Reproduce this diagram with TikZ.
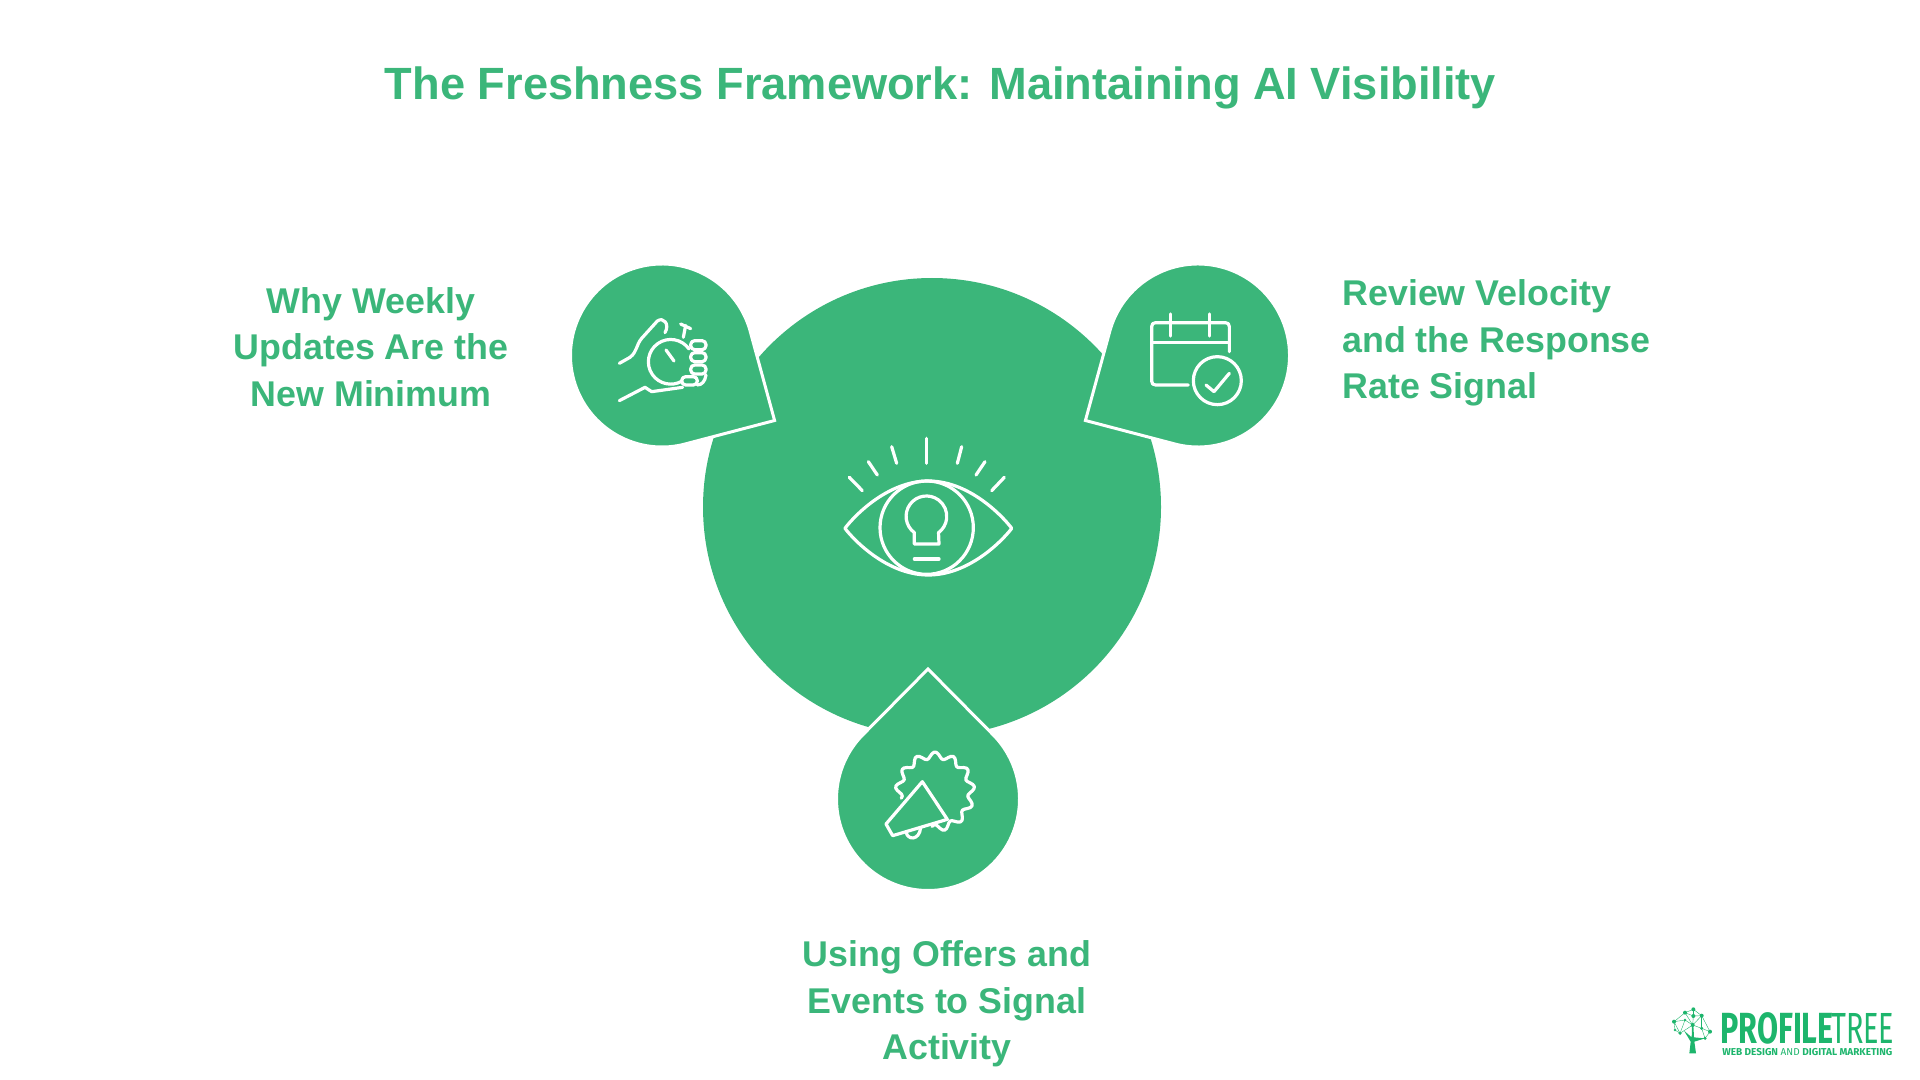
\documentclass[tikz,border=0pt]{standalone}
\usepackage{fontspec}
\setmainfont{Liberation Sans}
\newfontfamily\logofont{Fira Sans}
\definecolor{leafgreen}{HTML}{3BB67A}
\definecolor{logogreen}{HTML}{1DB56C}
\tikzset{
  dropmark/.style={fill=leafgreen,draw=white,line width=1.5pt,line join=miter,miter limit=10},
  iconline/.style={draw=white,line width=1.6pt,line cap=round,line join=round},
  headline/.style={text=leafgreen,font=\bfseries\fontsize{22.6}{26}\selectfont,inner sep=0pt},
  sidelabel/.style={text=leafgreen,font=\bfseries\fontsize{17.9}{23.2}\selectfont,inner sep=0pt},
  treeline/.style={draw=logogreen,line width=0.2pt},
  treedot/.style={fill=logogreen},
}
\newcommand{\dropshape}[3]{%
  \path[dropmark,shift={(#1,#2)},rotate=#3] (130,0) -- (47:91.5) arc[start angle=47,end angle=313,radius=91.5] -- cycle;}
\begin{document}
\begin{tikzpicture}[x=0.5pt,y=0.5pt,yscale=-1,xscale=1]
\useasboundingbox (0,0) rectangle (1920,1080);

% circle and drops
\fill[leafgreen] (932,507) circle (229);
\dropshape{662}{355.5}{30}
\dropshape{1198}{355.5}{150}
\dropshape{928}{799}{-90}

% eye
\begin{scope}[shift={(820,420)},scale=1/3]
\foreach \ax/\ay/\bx/\by in {320/55/320/130,215/80/230/130,145/125/172/165,88/172/127/212,425/80/412/130,495/125/468/165,553/172/515/212}
  \draw[iconline] (\ax,\ay) -- (\bx,\by);
\draw[iconline] (75,325) .. controls (85,310) and (190,183) .. (325,183) .. controls (460,183) and (565,310) .. (575,325) .. controls (565,340) and (460,465) .. (325,465) .. controls (190,465) and (85,340) .. (75,325) -- cycle;
\draw[iconline] (320,323) circle (140);
\draw[iconline] (283,338) arc[start angle=126.5,end angle=413.5,radius=61] -- (357,372) -- (283,372) -- cycle;
\draw[iconline] (283,417) -- (357,417);
\end{scope}

% hand with stopwatch
\begin{scope}[shift={(550,250)},scale=1/3]
\draw[iconline] (208,340) -- (240,322) .. controls (262,305) and (258,285) .. (275,265) -- (322,213) .. controls (340,200) and (360,222) .. (345,248);
\draw[iconline] (417,297) arc[start angle=-35,end angle=-300,radius=67];
\draw[iconline] (348,300) -- (372,333);
\draw[iconline] (400,262) -- (407,226) (392,222) -- (422,236);
\draw[iconline] (208,452) -- (285,412) -- (305,425) -- (398,412);
\foreach \fy in {272,308,345}
  \draw[iconline,rounded corners=2pt] (422,\fy) rectangle (468,\fy+27);
\draw[iconline,rounded corners=2pt] (395,380) rectangle (442,405);
\draw[iconline] (468,375) .. controls (465,395) and (455,405) .. (442,405);
\end{scope}

% calendar with check
\begin{scope}[shift={(1070,250)},scale=1/3]
\draw[iconline] (478,305) -- (478,230) .. controls (478,222) and (474,218) .. (466,218) -- (257,218) .. controls (249,218) and (245,222) .. (245,230) -- (245,393) .. controls (245,401) and (249,405) .. (257,405) -- (355,405);
\draw[iconline] (245,277) -- (478,277);
\draw[iconline] (302,192) -- (302,258) (418,192) -- (418,258);
\draw[iconline] (442,392) circle (72);
\draw[iconline] (408,405) -- (432,425) -- (478,370);
\end{scope}

% megaphone
\begin{scope}[shift={(830,650)},scale=1/3]
\draw[iconline,shift={(315,425)}] plot[smooth,domain=169:455,samples=90] (\x:{109+10*cos(13*(\x-270))});
\draw[iconline] (168,522) -- (277,395) -- (352,508) -- (188,557) -- cycle;
\draw[iconline] (228,545) .. controls (232,572) and (268,572) .. (272,533);
\end{scope}

% labels
\node[headline] (title) at (940.5,88) {The Freshness Framework: Maintaining AI Visibility};
\node[sidelabel,align=center] (weekly) at (371,347) {Why Weekly\\Updates Are the\\New Minimum};
\node[sidelabel,align=left,anchor=west] (review) at (1342,343) {Review Velocity\\and the Response\\Rate Signal};
\node[sidelabel,align=center] (offers) at (947,1004) {Using Offers and\\Events to Signal\\Activity};

% logo
\begin{scope}[shift={(1660,1000)},scale=1/3]
\foreach \ax/\ay/\bx/\by in {42/65/75/38,75/38/100/28,100/28/125/47,125/47/150/95,150/95/135/115,42/65/60/100,60/100/98/75,98/75/75/38,98/75/125/47,98/75/125/85,125/85/150/95,100/48/75/38,100/48/125/47,100/28/100/48,100/48/98/75,45/90/42/65,45/90/60/100,75/60/42/65,75/60/98/75,75/60/60/100,125/85/125/47,125/85/135/115}
  \draw[treeline] (\ax,\ay) -- (\bx,\by);
\foreach \dx/\dy/\dr in {42/65/6,75/38/6,100/28/6,125/47/6,150/95/6,98/75/6,125/85/5,60/100/5,45/90/4,100/48/6,135/115/5,75/60/4}
  \fill[treedot] (\dx,\dy) circle (\dr);
\fill[logogreen] (88,160) -- (108,160) -- (103,125) -- (135,115) -- (102,112) -- (100,75) -- (96,75) -- (95,112) -- (72,92) -- (92,125) -- cycle;
\end{scope}
\node[inner sep=0pt,anchor=west,text=logogreen,xscale=0.7,font=\logofont\bfseries\fontsize{21.8}{24}\selectfont] (profile) at (1720,1028) {PROFILE};
\node[inner sep=0pt,anchor=west,text=logogreen,xscale=0.66,font=\logofont\fontsize{21.8}{24}\selectfont] (tree) at (1831,1028) {TREE};
\node[inner sep=0pt,anchor=west,text=logogreen,font=\logofont\fontsize{5}{6}\selectfont] (strap) at (1722,1052) {\textbf{WEB DESIGN} AND \textbf{DIGITAL MARKETING}};
\end{tikzpicture}
\end{document}
